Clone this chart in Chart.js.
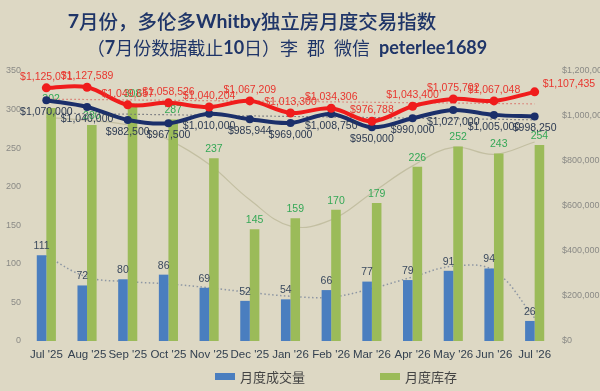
<!DOCTYPE html>
<html>
<head>
<meta charset="utf-8">
<script src="https://cdn.jsdelivr.net/npm/chart.js@4.4.1/dist/chart.umd.min.js"></script>
<style>
  html, body { margin: 0; padding: 0; background: #ddd8c4; }
  #wrap { width: 600px; height: 391px; }
</style>
</head>
<body>
<div id="wrap"><canvas id="c" width="600" height="391"></canvas></div>
<script>
// 多伦多 Whitby 独立房 月度成交量 / 库存 / 均价 / 中位价
const months      = ["Jul '25","Aug '25","Sep '25","Oct '25","Nov '25","Dec '25","Jan '26","Feb '26","Mar '26","Apr '26","May '26","Jun '26","Jul '26"];
const sales       = [111, 72, 80, 86, 69, 52, 54, 66, 77, 79, 91, 94, 26];
const inventory   = [302, 280, 308, 287, 237, 145, 159, 170, 179, 226, 252, 243, 254];
const avgPrice    = [1125071, 1127589, 1049657, 1058526, 1040204, 1067209, 1013300, 1034306, 976788, 1043400, 1075702, 1067048, 1107435];
const medianPrice = [1070000, 1040000, 982500, 967500, 1010000, 985944, 969000, 1008750, 950000, 990000, 1027000, 1005000, 998250];

// 趋势线
const salesTrend  = [110, 83, 77, 74, 69, 63, 58, 57, 68, 83, 97, 91, 30];
const invTrend    = [290, 286, 280, 261, 229, 183, 149, 157, 192, 227, 251, 242, 258];
const avgTrend    = [1075000, null, null, null, null, null, null, null, null, null, null, null, 1054000];
const medTrend    = [1013000, null, null, null, null, null, null, null, null, null, null, null, 983000];

const countMax = 350, countStep = 50;
const priceMax = 1200000, priceStep = 200000;

const NUM_FONT = "'Liberation Sans Narrow', 'Liberation Sans', Roboto, sans-serif";
const CJK_FONT = "'Noto Sans CJK SC', 'Noto Sans CJK TC', sans-serif";
const NAVY = '#1f3568';

const money = v => '$' + Math.round(v).toLocaleString('en-US');

// ── 数据标签 ──
const LABELS = {
  sales:   { color: '#3b4a5e', size: 10.5, fmt: v => v, pos: 'bar' },
  inv:     { color: '#35a856', size: 10.5, fmt: v => v, pos: 'bar' },
  avg:     { color: '#e8362e', size: 10.5, fmt: money, pos: 'above' },
  median:  { color: '#2c3a52', size: 10.5, fmt: money, pos: 'below' },
};

const labelPlugin = {
  id: 'pointLabels',
  afterDatasetDraw(chart, args) {
    const ds = chart.data.datasets[args.index];
    const cfg = LABELS[ds.key];
    if (!cfg) return;
    const ctx = chart.ctx;
    ctx.save();
    ctx.font = cfg.size + 'px ' + NUM_FONT;
    ctx.fillStyle = cfg.color;
    ctx.textAlign = 'center';
    ctx.textBaseline = 'middle';
    args.meta.data.forEach((el, i) => {
      const v = ds.data[i];
      if (v == null) return;
      let x = el.x, y = el.y;
      if (cfg.pos === 'bar') y -= 9;
      else if (cfg.pos === 'above') y -= 11;
      else y += 12;
      if (cfg.pos === 'above' && i === ds.data.length - 1) { ctx.textAlign = 'left'; x += 8; y += 3; }
      ctx.fillText(cfg.fmt(v), x, y);
      ctx.textAlign = 'center';
    });
    ctx.restore();
  }
};

// ── 标题 (中英混排) ──
function drawSegs(ctx, segs, cx, y, size, cjkWeight) {
  const fontOf = s => s[1] ? 'bold ' + size + 'px Lato, ' + CJK_FONT : cjkWeight + ' ' + size + 'px ' + CJK_FONT;
  let total = 0;
  segs.forEach(s => { ctx.font = fontOf(s); total += ctx.measureText(s[0]).width; });
  let x = cx - total / 2;
  segs.forEach(s => { ctx.font = fontOf(s); ctx.fillText(s[0], x, y); x += ctx.measureText(s[0]).width; });
}

const titlePlugin = {
  id: 'titles',
  afterDraw(chart) {
    const ctx = chart.ctx;
    ctx.save();
    ctx.fillStyle = NAVY;
    ctx.textAlign = 'left';
    ctx.textBaseline = 'middle';
    drawSegs(ctx, [['7', true], ['月份，多伦多', false], ['Whitby', true], ['独立房月度交易指数', false]], 252, 22, 19.5, 500);
    drawSegs(ctx, [['（', false], ['7', true], ['月份数据截止', false], ['10', true], ['日）李\u2002郡\u2002微信\u2002', false], ['peterlee1689', true]], 287, 48, 18, 400);
    ctx.restore();
  }
};

// ── 图例 (只显示柱) ──
const legendPlugin = {
  id: 'barLegend',
  afterDraw(chart) {
    const ctx = chart.ctx;
    const items = chart.data.datasets.filter(d => d.inLegend);
    const xs = [215, 380];
    ctx.save();
    ctx.font = '13px ' + CJK_FONT;
    ctx.textBaseline = 'middle';
    items.forEach((d, i) => {
      ctx.fillStyle = d.backgroundColor;
      ctx.fillRect(xs[i], 373, 20, 7);
      ctx.fillStyle = '#444';
      ctx.fillText(d.label, xs[i] + 25, 377);
    });
    ctx.restore();
  }
};

const noGrid = { display: false, drawTicks: false };

new Chart(document.getElementById('c'), {
  type: 'bar',
  data: {
    labels: months,
    datasets: [
      { key: 'sales', label: '月度成交量', data: sales, yAxisID: 'y', backgroundColor: '#4a7ebf', inLegend: true, categoryPercentage: 0.47, barPercentage: 1, order: 9 },
      { key: 'inv', label: '月度库存', data: inventory, yAxisID: 'y', backgroundColor: '#9bbb59', inLegend: true, categoryPercentage: 0.47, barPercentage: 1, order: 10 },
      { type: 'line', key: 'invT', data: invTrend, yAxisID: 'y', borderColor: '#c3bfa2', borderWidth: 1.2, pointRadius: 0, tension: 0.4, order: 20 },
      { type: 'line', key: 'salesT', data: salesTrend, yAxisID: 'y', borderColor: '#8d96a3', borderWidth: 1.5, borderDash: [1.5, 2.5], pointRadius: 0, tension: 0.4, order: 19 },
      { type: 'line', key: 'avgT', data: avgTrend, yAxisID: 'y1', spanGaps: true, borderColor: '#d9786e', borderWidth: 1.2, borderDash: [1.5, 2.5], pointRadius: 0, order: 5 },
      { type: 'line', key: 'medT', data: medTrend, yAxisID: 'y1', spanGaps: true, borderColor: '#6d6f78', borderWidth: 1.2, borderDash: [1.5, 2.5], pointRadius: 0, order: 4 },
      { type: 'line', key: 'median', data: medianPrice, yAxisID: 'y1', borderColor: '#1b2f6a', backgroundColor: '#1b2f6a', borderWidth: 4, pointRadius: 4, pointBorderWidth: 0, tension: 0.35, order: 2 },
      { type: 'line', key: 'avg', data: avgPrice, yAxisID: 'y1', borderColor: '#f01c1c', backgroundColor: '#f01c1c', borderWidth: 4, pointRadius: 4.5, pointBorderWidth: 0, tension: 0.35, order: 1 },
    ]
  },
  options: {
    responsive: false,
    animation: false,
    devicePixelRatio: 1,
    layout: { padding: { top: 71, bottom: 28, left: 0, right: 0 } },
    plugins: { legend: { display: false }, tooltip: { enabled: false } },
    scales: {
      x: {
        grid: noGrid, border: { display: false },
        ticks: { color: '#33404f', font: { size: 11.5, family: NUM_FONT }, padding: 7, maxRotation: 0, autoSkip: false },
        afterFit: s => { s.height = 22; }
      },
      y: {
        position: 'left', min: 0, max: countMax,
        grid: noGrid, border: { display: false },
        ticks: { stepSize: countStep, color: '#8a8a86', font: { size: 9, family: NUM_FONT }, padding: 5 },
        afterFit: s => { s.width = 26; }
      },
      y1: {
        position: 'right', min: 0, max: priceMax,
        grid: noGrid, border: { display: false },
        ticks: { stepSize: priceStep, color: '#8a8a86', font: { size: 9, family: NUM_FONT }, padding: 7, callback: v => money(v) },
        afterFit: s => { s.width = 45; }
      }
    }
  },
  plugins: [labelPlugin, titlePlugin, legendPlugin]
});
</script>
</body>
</html>
